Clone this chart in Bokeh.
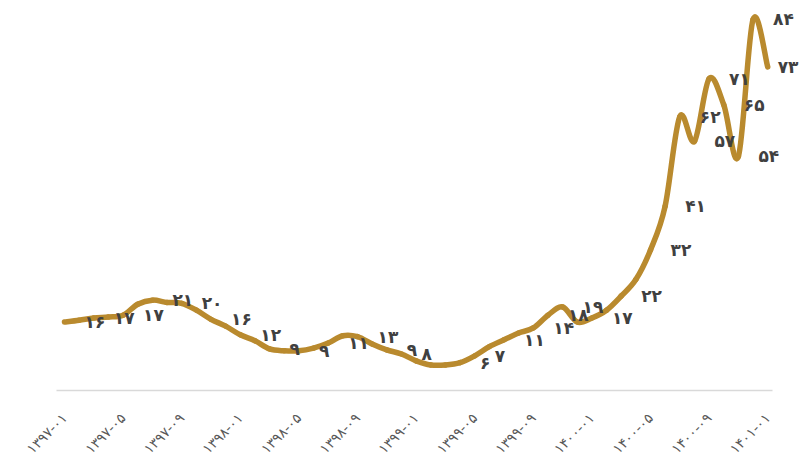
from bokeh.plotting import figure
from bokeh.models import ColumnDataSource, Range1d, FixedTicker
from bokeh.core.properties import value
from bokeh.embed import file_html
from bokeh.resources import INLINE

# ---- data (month index 0 = ۱۳۹۷-۰۱ ... 48 = ۱۴۰۱-۰۱) ----
month_index = list(range(49))
series_values = [
    17.7, 18.1, 18.6, 18.8, 19.2, 21.6, 22.5, 22.0, 21.8, 20.3,
    18.3, 16.8, 14.9, 13.6, 11.8, 11.4, 11.4, 12.0, 13.1, 14.7,
    14.5, 12.9, 11.6, 10.7, 9.2, 8.3, 8.3, 8.8, 10.3, 12.3,
    13.8, 15.3, 16.4, 19.2, 21.0, 17.7, 18.6, 20.3, 23.4, 27.0,
    33.5, 43.1, 62.7, 57.3, 71.0, 65.3, 54.0, 84.0, 73.6,
]
label_months = [0, 2, 4, 6, 8, 10, 12, 14, 16, 18, 20, 22, 23, 27, 28, 30,
                32, 33, 34, 36, 38, 40, 41, 42, 43, 44, 45, 46, 47, 48]
label_values = [16, 17, 17, 21, 20, 16, 12, 9, 9, 11, 13, 9, 8, 6, 7, 11,
                14, 18, 19, 17, 22, 32, 41, 62, 57, 71, 65, 54, 84, 73]
tick_months = [0, 4, 8, 12, 16, 20, 24, 28, 32, 36, 40, 44, 48]
tick_labels = ["۱۳۹۷-۰۱", "۱۳۹۷-۰۵", "۱۳۹۷-۰۹", "۱۳۹۸-۰۱", "۱۳۹۸-۰۵",
               "۱۳۹۸-۰۹", "۱۳۹۹-۰۱", "۱۳۹۹-۰۵", "۱۳۹۹-۰۹", "۱۴۰۰-۰۱",
               "۱۴۰۰-۰۵", "۱۴۰۰-۰۹", "۱۴۰۱-۰۱"]

FA = str.maketrans("0123456789", "۰۱۲۳۴۵۶۷۸۹")

LINE_COLOR = "#B98A2E"
LABEL_COLOR = "#404040"

W = 808
H = 465
LEFT = 56
TOP = 10
BOTTOM = 72
PX_PER_MONTH = 14.65
x_start = -8 / PX_PER_MONTH
x_end = x_start + (W - LEFT) / PX_PER_MONTH

p = figure(width=W, height=H,
           x_range=Range1d(x_start, x_end), y_range=Range1d(2.7, 85.96),
           output_backend="svg", toolbar_location=None,
           min_border_left=LEFT, min_border_right=0,
           min_border_top=TOP, min_border_bottom=BOTTOM)
p.outline_line_color = None
p.grid.visible = False
p.yaxis.visible = False
p.background_fill_color = "white"
p.border_fill_color = "white"

# smooth line: Catmull-Rom segments drawn with Bokeh's bezier glyph
n = len(month_index)
x0, y0, x1, y1, cx0, cy0, cx1, cy1 = [], [], [], [], [], [], [], []
for i in range(n - 1):
    a = max(i - 1, 0)
    d = min(i + 2, n - 1)
    xa, ya = month_index[a], series_values[a]
    xb, yb = month_index[i], series_values[i]
    xc, yc = month_index[i + 1], series_values[i + 1]
    xd, yd = month_index[d], series_values[d]
    x0.append(xb); y0.append(yb); x1.append(xc); y1.append(yc)
    cx0.append(xb + (xc - xa) / 6.0); cy0.append(yb + (yc - ya) / 6.0)
    cx1.append(xc - (xd - xb) / 6.0); cy1.append(yc - (yd - yb) / 6.0)
p.bezier(x0=x0, y0=y0, x1=x1, y1=y1, cx0=cx0, cy0=cy0, cx1=cx1, cy1=cy1,
         line_color=LINE_COLOR, line_width=5.5, line_cap="round")

last = month_index[-1]
lab_src = ColumnDataSource(dict(
    x=label_months,
    y=[series_values[m] for m in label_months],
    t=[str(v).translate(FA) for v in label_values],
    dx=[20 if m < last else 10 for m in label_months],
))
p.text(x="x", y="y", text="t", source=lab_src, x_offset="dx",
       text_align="left", text_baseline="middle",
       text_font=value("DejaVu Sans"), text_font_style="bold",
       text_font_size="17px", text_color=LABEL_COLOR)

ax = p.xaxis[0]
ax.ticker = FixedTicker(ticks=tick_months)
ax.major_label_overrides = {m: t for m, t in zip(tick_months, tick_labels)}
ax.major_label_orientation = 0.785398
ax.bounds = (x_start, 48.34)
ax.axis_line_color = "#D9D9D9"
ax.axis_line_width = 1.5
ax.major_tick_line_color = None
ax.minor_tick_line_color = None
ax.major_label_standoff = 19
ax.major_label_text_font = "DejaVu Sans"
ax.major_label_text_font_size = "14px"
ax.major_label_text_color = "#595959"

open("out.html", "w").write(file_html(p, INLINE))
